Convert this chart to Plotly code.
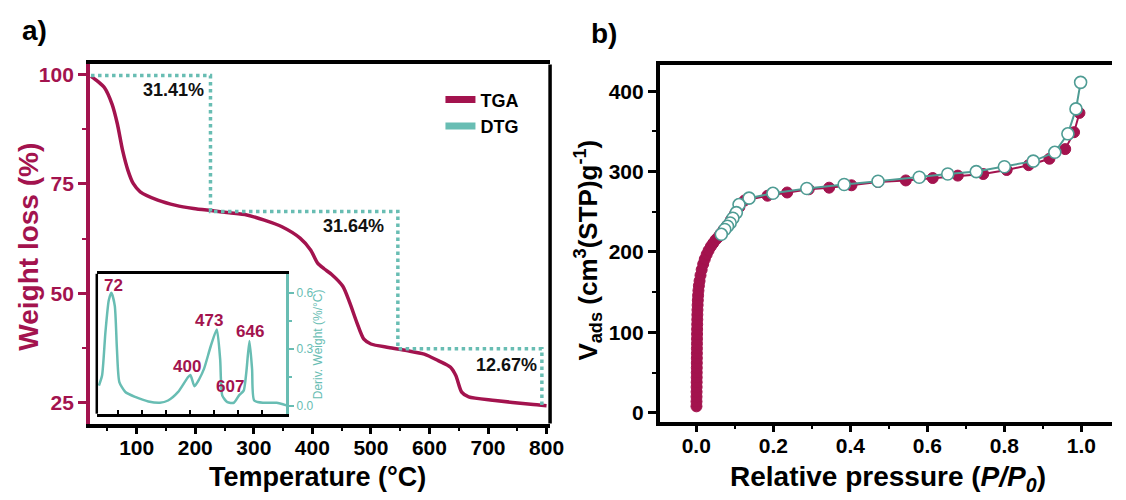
import plotly.graph_objects as go

# ---------------- data ----------------
tga_temp = [22, 33, 45, 58, 67, 76, 85, 94, 106, 136, 167, 197, 227, 258, 288, 318, 348,
            379, 397, 409, 420, 433, 452, 464, 476, 488, 500, 530, 561, 591, 615, 636,
            645, 655, 667, 712, 773, 800]
tga_weight = [99.6, 98.5, 97.0, 93.2, 88.7, 82.6, 78.1, 75.1, 73.2, 71.3, 70.1, 69.4, 68.9,
              68.4, 67.9, 66.7, 65.2, 62.6, 59.9, 56.9, 55.6, 54.3, 51.6, 47.8, 43.3, 39.5,
              38.4, 37.6, 36.9, 36.1, 34.6, 33.1, 31.2, 27.4, 26.3, 25.5, 24.6, 24.3]

step_temp = [22, 226, 226, 546, 546, 792, 792]
step_weight = [99.8, 99.8, 68.7, 68.7, 37.3, 37.3, 24.2]
step_labels = ["31.41%", "31.64%", "12.67%"]
step_label_temp = [162, 471, 731]
step_label_weight = [96.4, 65.3, 33.5]

dtg_temp = [22, 35, 49, 63, 74, 88, 97, 107, 132, 173, 228, 276, 310, 351, 392, 403, 420,
            440, 460, 488, 513, 527, 536, 557, 584, 605, 625, 636, 649, 660, 669, 708, 762, 803]
dtg_deriv = [0.107, 0.16, 0.39, 0.56, 0.60, 0.53, 0.30, 0.126, 0.073, 0.047, 0.023, 0.016,
             0.028, 0.072, 0.15, 0.163, 0.104, 0.142, 0.197, 0.317, 0.405, 0.247, 0.054,
             0.019, 0.016, 0.054, 0.08, 0.177, 0.344, 0.195, 0.028, 0.016, 0.016, 0.002]
peak_labels = ["72", "400", "473", "607", "646"]
peak_label_temp = [84, 389, 479, 569, 650]
peak_label_deriv = [0.637, 0.207, 0.453, 0.10, 0.395]

ads_p = [0.0005, 0.0006, 0.0007, 0.0008, 0.0009, 0.0010, 0.0011, 0.0012, 0.0013, 0.0014,
         0.0015, 0.0016, 0.0017, 0.0018, 0.0019, 0.0020, 0.0022, 0.0024, 0.0026, 0.0028,
         0.0031, 0.0035, 0.0040, 0.0047, 0.0056, 0.0068, 0.0085, 0.011, 0.014, 0.018,
         0.022, 0.027, 0.032, 0.038, 0.044, 0.050, 0.056, 0.062, 0.070, 0.080, 0.090,
         0.100, 0.112, 0.125, 0.185, 0.236, 0.292, 0.345, 0.403, 0.472, 0.544, 0.614,
         0.679, 0.745, 0.806, 0.863, 0.917, 0.958, 0.981, 0.995]
ads_v = [8, 14, 20, 26, 32, 38, 44, 50, 56, 62, 68, 74, 80, 86, 92, 98, 104, 110, 116, 122,
         128, 134, 140, 146, 152, 158, 164, 171, 178, 185, 191, 197, 202, 207, 211, 215,
         218, 222, 227, 233, 240, 247, 256, 264, 270, 274, 278, 280, 283, 287, 289, 292,
         295, 297, 302, 308, 316, 328, 349, 373]
des_p = [0.998, 0.986, 0.965, 0.931, 0.875, 0.800, 0.727, 0.653, 0.579, 0.472, 0.384,
         0.287, 0.199, 0.137, 0.111, 0.104, 0.095, 0.088, 0.081, 0.074, 0.065]
des_v = [411, 378, 347, 324, 313, 306, 300, 297, 293, 288, 284, 279, 273, 267, 259, 249,
         242, 236, 232, 228, 222]

# ---------------- style ----------------
W, H = 1126, 500
CRIMSON = "#A3134E"
TEAL = "#68BDB3"
TEAL_DARK = "#4F9C94"
FONT = "Liberation Sans, Arial, sans-serif"


def px_x(p):
    return p / W


def px_y(p):
    return 1 - p / H


fig = go.Figure()

fig.add_trace(go.Scatter(x=tga_temp, y=tga_weight, mode="lines",
                         line=dict(color=CRIMSON, width=3.5, shape="spline", smoothing=0.7),
                         xaxis="x", yaxis="y", showlegend=False, hoverinfo="skip"))
fig.add_trace(go.Scatter(x=step_temp, y=step_weight, mode="lines",
                         line=dict(color=TEAL, width=3.5, dash="dot"),
                         xaxis="x", yaxis="y", showlegend=False, hoverinfo="skip"))
fig.add_trace(go.Scatter(x=[None], y=[None], mode="lines", name="TGA",
                         line=dict(color=CRIMSON, width=7), xaxis="x", yaxis="y"))
fig.add_trace(go.Scatter(x=[None], y=[None], mode="lines", name="DTG",
                         line=dict(color=TEAL, width=7), xaxis="x", yaxis="y"))
fig.add_trace(go.Scatter(x=dtg_temp, y=dtg_deriv, mode="lines",
                         line=dict(color=TEAL, width=2.5, shape="spline", smoothing=0.6),
                         xaxis="x3", yaxis="y3", showlegend=False, hoverinfo="skip"))
fig.add_trace(go.Scatter(x=ads_p, y=ads_v, mode="lines+markers",
                         line=dict(color=CRIMSON, width=2),
                         marker=dict(size=11, color=CRIMSON, line=dict(color=CRIMSON, width=1)),
                         xaxis="x4", yaxis="y4", showlegend=False, hoverinfo="skip"))
fig.add_trace(go.Scatter(x=des_p, y=des_v, mode="lines+markers",
                         line=dict(color=TEAL_DARK, width=2),
                         marker=dict(size=12, color="white", line=dict(color=TEAL_DARK, width=1.6)),
                         xaxis="x4", yaxis="y4", showlegend=False, hoverinfo="skip"))

tick_font = dict(family=FONT, size=21, color="black", weight="bold")

layout = dict(
    width=W, height=H,
    margin=dict(l=0, r=0, t=0, b=0),
    paper_bgcolor="white", plot_bgcolor="white",
    font=dict(family=FONT, color="black"),
    showlegend=True,
    legend=dict(x=px_x(446), y=px_y(80), xanchor="left", yanchor="top",
                bgcolor="rgba(0,0,0,0)", font=dict(family=FONT, size=18, weight="bold"),
                itemwidth=30, tracegroupgap=0),
    xaxis=dict(domain=[px_x(91), px_x(557)], range=[20, 806], anchor="y",
               showline=True, linecolor="black", linewidth=3.5, mirror=True,
               ticks="outside", ticklen=7, tickwidth=3, tickcolor="black",
               ticklabelstandoff=-5,
               tickvals=[100, 200, 300, 400, 500, 600, 700, 800],
               minor=dict(tickvals=[50, 150, 250, 350, 450, 550, 650, 750], ticklen=4,
                          tickwidth=2, tickcolor="black", ticks="outside"),
               tickfont=tick_font, showgrid=False, zeroline=False),
    yaxis=dict(domain=[px_y(425), px_y(63)], range=[20.2, 102.3], anchor="x",
               showline=True, linecolor=CRIMSON, linewidth=3.5,
               ticks="outside", ticklen=8, tickwidth=3, tickcolor=CRIMSON,
               tickvals=[25, 50, 75, 100],
               minor=dict(tickvals=[37.5, 62.5, 87.5], ticklen=4, tickwidth=2,
                          tickcolor=CRIMSON, ticks="outside"),
               tickfont=dict(family=FONT, size=21, color=CRIMSON, weight="bold"),
               showgrid=False, zeroline=False),
    xaxis3=dict(domain=[px_x(98), px_x(290)], range=[13, 803], anchor="y3",
                showline=True, linecolor="black", linewidth=2.5, mirror=True,
                ticks="inside", ticklen=4, tickwidth=2, tickcolor="black",
                tickvals=[100, 200, 300, 400, 500, 600, 700], showticklabels=False,
                showgrid=False, zeroline=False),
    yaxis3=dict(domain=[px_y(415), px_y(274)], range=[-0.042, 0.70], anchor="x3",
                side="right", showline=True, linecolor=TEAL, linewidth=2.5,
                ticks="outside", ticklen=5, tickwidth=2, tickcolor=TEAL,
                tickvals=[0, 0.3, 0.6], ticktext=["0.0", "0.3", "0.6"],
                minor=dict(tickvals=[0.15, 0.45], ticklen=3, tickwidth=1.5,
                           tickcolor=TEAL, ticks="outside"),
                tickfont=dict(family=FONT, size=12, color=TEAL),
                showgrid=False, zeroline=False),
    xaxis4=dict(domain=[px_x(668), 1.0], range=[-0.095, 1.0795], anchor="y4",
                showline=True, linecolor="black", linewidth=3.5, mirror=True,
                ticks="outside", ticklen=7, tickwidth=3, tickcolor="black",
                ticklabelstandoff=-5,
                tickvals=[0, 0.2, 0.4, 0.6, 0.8, 1.0],
                ticktext=["0.0", "0.2", "0.4", "0.6", "0.8", "1.0"],
                minor=dict(tickvals=[-0.1, 0.1, 0.3, 0.5, 0.7, 0.9], ticklen=4,
                           tickwidth=2, tickcolor="black", ticks="outside"),
                tickfont=tick_font, showgrid=False, zeroline=False),
    yaxis4=dict(domain=[px_y(423), px_y(64)], range=[-11, 432], anchor="x4",
                showline=True, linecolor="black", linewidth=3.5,
                ticks="outside", ticklen=8, tickwidth=3, tickcolor="black",
                tickvals=[0, 100, 200, 300, 400],
                minor=dict(tickvals=[50, 150, 250, 350], ticklen=4, tickwidth=2,
                           tickcolor="black", ticks="outside"),
                tickfont=tick_font, showgrid=False, zeroline=False),
)
fig.update_layout(**layout)

fig.add_shape(type="line", xref="x domain", yref="y domain", x0=1, x1=1, y0=0, y1=1,
              line=dict(color="black", width=3.5))
fig.add_shape(type="line", xref="x3 domain", yref="y3 domain", x0=0, x1=0, y0=0, y1=1,
              line=dict(color="black", width=2.5))


def centered(**kw):
    kw.setdefault("xanchor", "center")
    kw.setdefault("yanchor", "middle")
    kw.setdefault("showarrow", False)
    return kw


annotations = []
for t, w, s in zip(step_label_temp, step_label_weight, step_labels):
    annotations.append(centered(x=t, y=w, xref="x", yref="y", text=s,
                                font=dict(family=FONT, size=18, color="#111", weight="bold")))
for t, d, s in zip(peak_label_temp, peak_label_deriv, peak_labels):
    annotations.append(centered(x=t, y=d, xref="x3", yref="y3", text=s,
                                font=dict(family=FONT, size=17, color=CRIMSON, weight="bold")))

annotations += [
    centered(x=px_x(35), y=px_y(29), xref="paper", yref="paper", text="a)",
             font=dict(family=FONT, size=28, color="black", weight="bold")),
    centered(x=px_x(612), y=px_y(32), xref="paper", yref="paper", text="b)",
             font=dict(family=FONT, size=28, color="black", weight="bold")),
    centered(x=px_x(28), y=px_y(247), xref="paper", yref="paper", text="Weight loss (%)",
             textangle=-90, font=dict(family=FONT, size=28, color=CRIMSON, weight="bold")),
    centered(x=px_x(321), y=px_y(479), xref="paper", yref="paper", text="Temperature (°C)",
             font=dict(family=FONT, size=27, color="black", weight="bold")),
    centered(x=px_x(322), y=px_y(345), xref="paper", yref="paper", text="Deriv. Weight (%/°C)",
             textangle=-90, font=dict(family=FONT, size=12, color=TEAL)),
    centered(x=px_x(595), y=px_y(250), xref="paper", yref="paper",
             text="V<sub>ads</sub> (cm<sup>3</sup>(STP)g<sup>-1</sup>)",
             textangle=-90, font=dict(family=FONT, size=26, color="black", weight="bold")),
    centered(x=px_x(899), y=px_y(480), xref="paper", yref="paper",
             text="Relative pressure (<i>P/P<sub>0</sub></i>)",
             font=dict(family=FONT, size=28, color="black", weight="bold")),
]
fig.update_layout(annotations=annotations)

fig.write_html("out.html", config={"displayModeBar": False},
               post_script="document.body.style.margin='0';")
